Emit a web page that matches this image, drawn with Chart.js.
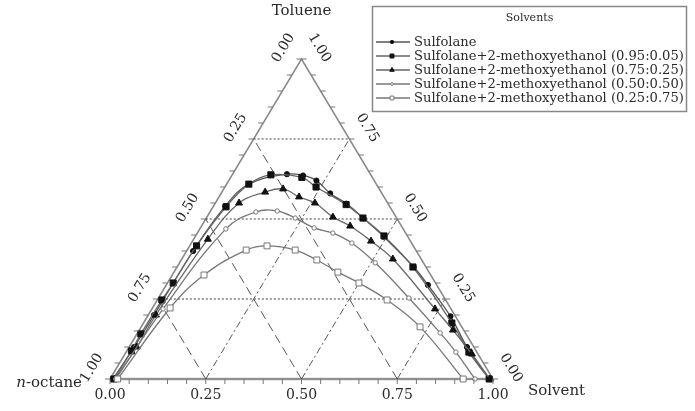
<!DOCTYPE html>
<html><head><meta charset="utf-8">
<script src="https://cdn.jsdelivr.net/npm/chart.js@4.4.0/dist/chart.umd.min.js"></script>
<style>html,body{margin:0;padding:0;background:#fff;}canvas{display:block;}</style>
</head><body>
<canvas id="c" width="695" height="411"></canvas>
<script>
// Ternary data: [solvent fraction, toluene fraction]
const seriesNames = [
  'Sulfolane',
  'Sulfolane+2-methoxyethanol (0.95:0.05)',
  'Sulfolane+2-methoxyethanol (0.75:0.25)',
  'Sulfolane+2-methoxyethanol (0.50:0.50)',
  'Sulfolane+2-methoxyethanol (0.25:0.75)'
];
const sulfolane = [[0.008,0.000],[0.013,0.100],[0.015,0.200],[0.017,0.400],[0.031,0.540],[0.058,0.609],[0.142,0.640],[0.186,0.636],[0.229,0.620],[0.285,0.580],[0.343,0.548],[0.411,0.502],[0.492,0.445],[0.618,0.350],[0.683,0.294],[0.791,0.196],[0.882,0.100],[0.990,0.000]];
const mix95 = [[0.010,0.000],[0.012,0.088],[0.010,0.141],[0.012,0.247],[0.015,0.300],[0.018,0.416],[0.034,0.538],[0.058,0.609],[0.101,0.638],[0.186,0.630],[0.238,0.600],[0.344,0.545],[0.409,0.503],[0.492,0.447],[0.616,0.350],[0.805,0.175],[0.895,0.084],[0.990,0.000]];
const mix75 = [[0.012,0.000],[0.020,0.100],[0.020,0.200],[0.037,0.437],[0.062,0.550],[0.113,0.584],[0.155,0.594],[0.209,0.569],[0.260,0.550],[0.329,0.506],[0.388,0.478],[0.466,0.431],[0.551,0.375],[0.739,0.219],[0.819,0.153],[0.906,0.078],[0.992,0.000]];
const mix50 = [[0.015,0.000],[0.029,0.219],[0.068,0.469],[0.120,0.522],[0.174,0.525],[0.232,0.503],[0.297,0.472],[0.354,0.456],[0.419,0.425],[0.511,0.363],[0.654,0.253],[0.790,0.144],[0.861,0.084],[0.953,0.000]];
const mix25 = [[0.020,0.000],[0.046,0.222],[0.083,0.325],[0.154,0.403],[0.202,0.416],[0.282,0.403],[0.354,0.372],[0.428,0.334],[0.500,0.300],[0.600,0.247],[0.728,0.163],[0.922,0.000]];

const tickValues = [0, 0.25, 0.5, 0.75, 1];
const tickLabels = ['0.00', '0.25', '0.50', '0.75', '1.00'];
const gridLevels = [0.25, 0.5, 0.75];
const vertexTop = 'Toluene';
const vertexLeft = 'n-octane';
const vertexRight = 'Solvent';
const legendTitle = 'Solvents';

// ternary -> cartesian (data units)
const tern = (s, t) => ({x: s + t / 2, y: t});

const styles = [
  {pointStyle:'circle', r:2.6, fill:'#111', stroke:'#111', line:'#555'},
  {pointStyle:'rect', r:4.3, fill:'#111', stroke:'#111', line:'#666'},
  {pointStyle:'triangle', r:4.0, fill:'#111', stroke:'#111', line:'#666'},
  {pointStyle:'circle', r:2.2, fill:'#fff', stroke:'#777', line:'#777'},
  {pointStyle:'rect', r:4.2, fill:'#fff', stroke:'#777', line:'#777'}
];
const allSeries = [sulfolane, mix95, mix75, mix50, mix25];

const datasets = [];
// frame
datasets.push({data:[tern(0,0),tern(1,0),tern(0,1),tern(0,0)], showLine:true, borderColor:'#888', borderWidth:1.5, pointRadius:0, tension:0, order:20, clip:false});
datasets.push({data:[tern(0,0),tern(1,0)], showLine:true, borderColor:'#aaa', borderWidth:2.5, pointRadius:0, order:21, clip:false});
// grid
gridLevels.forEach(v => {
  datasets.push({data:[tern(0,v),tern(1-v,v)], showLine:true, borderColor:'#444', borderWidth:1, borderDash:[2,2], pointRadius:0, order:15, clip:false});
  datasets.push({data:[tern(1-v,0),tern(0,1-v)], showLine:true, borderColor:'#555', borderWidth:1, borderDash:[9,5], pointRadius:0, order:15, clip:false});
  datasets.push({data:[tern(v,0),tern(v,1-v)], showLine:true, borderColor:'#555', borderWidth:1, borderDash:[7,3,2,3], pointRadius:0, order:15, clip:false});
});
allSeries.forEach((arr, i) => {
  const st = styles[i];
  datasets.push({
    label: seriesNames[i],
    data: arr.map(p => tern(p[0], p[1])),
    showLine: true, tension: 0.4, borderColor: st.line, borderWidth: 1.3,
    pointStyle: st.pointStyle, pointRadius: st.r, pointBackgroundColor: st.fill,
    pointBorderColor: st.stroke, pointBorderWidth: 1, order: 5 - i, clip: false
  });
});

const TXT = '#2a2a2a';
const SERIF = '"DejaVu Serif", "Liberation Serif", serif';

const decor = {
  id: 'decor',
  afterDraw(chart) {
    const ctx = chart.ctx, xs = chart.scales.x, ys = chart.scales.y;
    const P = (s, t) => { const q = tern(s, t); return [xs.getPixelForValue(q.x), ys.getPixelForValue(q.y)]; };
    ctx.save();
    // ticks
    ctx.strokeStyle = '#777'; ctx.lineWidth = 1;
    for (let k = 0; k <= 20; k++) {
      const v = k / 20;
      let [x, y] = P(v, 0);
      ctx.beginPath(); ctx.moveTo(x, y); ctx.lineTo(x, y + 5); ctx.stroke();
      [x, y] = P(0, v);
      ctx.beginPath(); ctx.moveTo(x, y); ctx.lineTo(x - 5, y); ctx.stroke();
      [x, y] = P(1 - v, v);
      ctx.beginPath(); ctx.moveTo(x, y); ctx.lineTo(x + 5, y); ctx.stroke();
    }
    // tick labels
    ctx.fillStyle = TXT; ctx.font = '14px ' + SERIF;
    ctx.textAlign = 'center'; ctx.textBaseline = 'middle';
    const ang = Math.atan2(ys.getPixelForValue(1) - ys.getPixelForValue(0), xs.getPixelForValue(0.5) - xs.getPixelForValue(0));
    tickValues.forEach((v, i) => {
      let [x, y] = P(v, 0);
      ctx.fillText(tickLabels[i], x, y + 16);
      // left side: n-octane fraction v -> toluene 1-v
      [x, y] = P(0, 1 - v);
      ctx.save(); ctx.translate(x - 18, y - 11); ctx.rotate(ang); ctx.fillText(tickLabels[i], 0, 0); ctx.restore();
      // right side: toluene fraction v
      [x, y] = P(1 - v, v);
      ctx.save(); ctx.translate(x + 18, y - 11); ctx.rotate(-ang); ctx.fillText(tickLabels[i], 0, 0); ctx.restore();
    });
    // vertex labels
    ctx.font = '15px ' + SERIF;
    let [tx, ty] = P(0, 1);
    ctx.fillText(vertexTop, tx, 11);
    let [lx, ly] = P(0, 0);
    ctx.textAlign = 'right';
    const rest = vertexLeft.slice(1);
    const rw = ctx.measureText(rest).width;
    ctx.fillText(rest, lx - 28, ly + 4);
    ctx.font = 'italic 15px ' + SERIF;
    ctx.fillText(vertexLeft[0], lx - 28 - rw, ly + 4);
    let [rx, ry] = P(1, 0);
    ctx.font = '15px ' + SERIF; ctx.textAlign = 'left';
    ctx.fillText(vertexRight, rx + 35, ry + 12);
    // legend
    const bx = 372.5, by = 6.5, bw = 314, bh = 105;
    ctx.strokeStyle = '#888'; ctx.lineWidth = 1.5;
    ctx.strokeRect(bx, by, bw, bh);
    ctx.textAlign = 'center'; ctx.font = '11px ' + SERIF;
    ctx.fillText(legendTitle, bx + bw / 2, 18);
    ctx.textAlign = 'left';
    ctx.font = '11.5px ' + SERIF;
    const scale = 270 / ctx.measureText(seriesNames[1]).width;
    ctx.font = (11.5 * scale).toFixed(2) + 'px ' + SERIF;
    seriesNames.forEach((name, i) => {
      const yy = 42 + i * 14, st = styles[i];
      ctx.strokeStyle = st.line; ctx.lineWidth = 1.3;
      ctx.beginPath(); ctx.moveTo(376, yy); ctx.lineTo(410, yy); ctx.stroke();
      ctx.fillStyle = st.fill; ctx.strokeStyle = st.stroke; ctx.lineWidth = 1;
      Chart.helpers.drawPoint(ctx, {pointStyle: st.pointStyle, radius: st.r * 0.65, borderWidth: 1}, 392, yy);
      ctx.fillStyle = TXT;
      ctx.fillText(name, 414, yy + 1);
    });
    ctx.restore();
  }
};

new Chart(document.getElementById('c'), {
  type: 'scatter',
  data: {datasets},
  options: {
    responsive: false, animation: false, devicePixelRatio: 1,
    layout: {autoPadding: false, padding: {left: 110, right: 202, top: 59, bottom: 32}},
    scales: {
      x: {type: 'linear', min: 0, max: 1, display: false},
      y: {type: 'linear', min: 0, max: 1, display: false}
    },
    plugins: {legend: {display: false}, tooltip: {enabled: false}}
  },
  plugins: [decor]
});
</script>
</body></html>
